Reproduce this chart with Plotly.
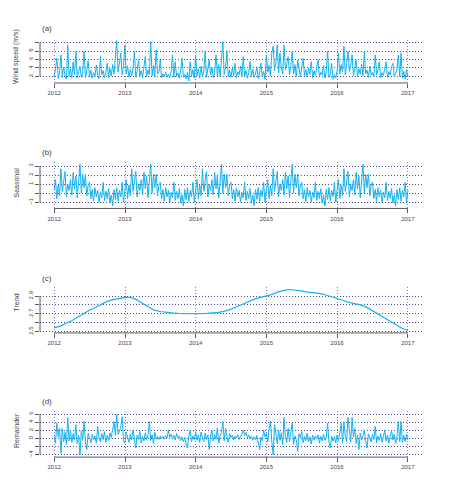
import numpy as np
import pandas as pd
import plotly.graph_objects as go

# ---------------- data (weekly readings) ----------------
wind_2012 = [2.0, 3.6, 6.3, 1.5, 3.0, 7.1, 1.8, 4.2, 2.2, 1.4, 9.4, 2.0, 3.8, 1.7, 5.4, 2.4, 7.9, 1.6, 3.2, 4.4,
             1.8, 2.8, 7.9, 1.7, 3.3, 5.7, 2.0, 3.5, 1.6, 2.9, 1.9, 4.7, 2.2, 1.5, 6.7, 2.4, 3.4, 1.7, 2.8, 5.1,
             1.8, 3.9, 2.1, 4.8, 2.5, 7.5, 10.5, 3.0, 5.2, 7.5, 2.4, 4.6]
wind_2013 = [9.4, 2.6, 4.5, 1.8, 3.6, 2.2, 4.0, 7.9, 1.9, 3.2, 5.9, 2.1, 3.4, 1.6, 4.2, 6.7, 2.0, 3.5, 2.4, 10.2,
             2.2, 4.6, 1.8, 8.3, 2.6, 3.0, 5.9, 1.7, 2.6, 2.0, 3.0, 1.8, 2.5, 1.7, 3.2, 7.1, 1.9, 5.5, 2.0, 2.8,
             1.6, 3.3, 6.3, 1.8, 2.5, 1.4, 3.0, 0.9, 5.5, 2.0, 3.6, 1.6]
wind_2014 = [7.1, 2.2, 3.8, 1.6, 4.4, 2.0, 3.2, 7.9, 1.8, 3.6, 5.9, 2.3, 4.1, 1.7, 3.0, 7.1, 2.1, 4.8, 1.9, 6.0,
             10.2, 2.5, 4.2, 8.1, 2.0, 3.5, 1.8, 4.0, 2.2, 5.1, 1.7, 3.1, 2.4, 4.5, 1.9, 6.7, 2.1, 3.4, 1.6, 2.9,
             5.5, 2.0, 3.7, 1.8, 2.6, 4.3, 1.5, 2.8, 5.1, 1.9, 3.2, 1.3]
wind_2015 = [7.1, 3.0, 4.6, 2.2, 7.5, 9.2, 3.4, 5.2, 9.4, 2.8, 7.5, 4.0, 2.5, 9.4, 3.6, 5.0, 6.7, 2.4, 4.4, 7.9,
             2.6, 4.8, 2.0, 5.9, 3.2, 1.9, 4.1, 6.3, 2.2, 3.6, 1.8, 4.0, 2.5, 5.5, 1.7, 3.4, 2.2, 4.2, 5.9, 1.9,
             3.0, 2.4, 4.6, 1.6, 3.3, 7.9, 1.8, 2.6, 5.1, 1.3, 2.4, 1.6]
wind_2016 = [3.4, 7.5, 2.6, 4.8, 3.0, 9.1, 2.4, 5.0, 7.9, 3.2, 4.6, 7.1, 2.2, 4.0, 5.9, 2.0, 3.8, 2.5, 4.9, 2.1,
             7.9, 2.6, 3.5, 1.8, 4.4, 2.3, 3.0, 1.9, 7.1, 2.4, 3.6, 5.5, 1.7, 2.9, 2.2, 3.9, 5.5, 1.8, 3.1, 2.4,
             4.3, 5.1, 1.9, 2.7, 3.8, 7.1, 2.0, 7.5, 1.6, 3.2, 1.4, 3.6, 2.0]
wind = wind_2012 + wind_2013 + wind_2014 + wind_2015 + wind_2016

# seasonal component: one periodic year (weekly), repeated every year
seasonal_year = [0.3, 1.5, -0.6, 0.9, -0.3, 2.7, 0.2, 1.2, 2.4, -0.4, 1.0, 0.3, 1.5, -0.2, 2.3, 0.5, 1.9, -0.5,
                 1.1, 3.2, 0.0, 2.1, 0.6, 2.1, -0.3, 0.9, 1.2, -0.6, 0.4, -0.9, 0.6, -0.4, 0.3, -1.0, 0.1, -0.5,
                 1.2, -0.8, 0.2, -0.6, 0.5, -1.1, -0.2, -1.4, 0.4, -0.7, 0.6, -0.9, 0.3, -0.4, 1.2, -1.0]
seasonal = seasonal_year * 5 + [seasonal_year[0]]

# trend component: monthly readings Jan 2012 .. Jan 2017
trend = [2.54, 2.56, 2.59, 2.62, 2.66, 2.70, 2.74, 2.77, 2.81, 2.84, 2.86, 2.87,
         2.885, 2.885, 2.86, 2.82, 2.78, 2.74, 2.725, 2.715, 2.71, 2.705, 2.70, 2.70,
         2.70, 2.70, 2.705, 2.71, 2.715, 2.73, 2.75, 2.78, 2.81, 2.84, 2.865, 2.885,
         2.90, 2.92, 2.945, 2.965, 2.975, 2.97, 2.96, 2.945, 2.94, 2.93, 2.915, 2.895,
         2.87, 2.845, 2.83, 2.815, 2.80, 2.775, 2.735, 2.70, 2.66, 2.615, 2.57, 2.535,
         2.51]

rem_2012 = [0.5, -1.2, 3.8, 0.4, 2.5, -3.7, 2.5, -0.8, 1.5, -1.5, 5.2, -0.6, 2.1, -1.0, 1.2, -0.3, 3.4, -1.3,
            0.8, -4.1, 1.9, -0.5, 4.2, -0.9, -2.8, 1.3, 0.2, -1.1, 1.0, -0.4, 0.6, -1.2, 3.0, 0.1, -0.9, 1.2,
            -0.3, 1.7, -1.0, 0.7, -0.5, 1.4, 0.2, 2.4, 4.2, 0.8, 6.0, 1.0, 1.7, 3.0, 5.4, -0.6]
rem_2013 = [-1.2, 1.6, 0.3, -1.0, 1.1, -0.4, 2.1, -0.7, -2.4, 0.8, -0.2, 1.7, -1.1, 0.5, -0.6, 1.4, -0.3, 0.9,
            4.2, -0.5, 0.9, -1.3, 1.5, -0.2, 0.4, -0.3, 0.6, 0.0, 0.5, -0.2, 0.7, 0.1, 2.1, 0.3, 1.0, -0.1,
            0.8, -0.4, 1.2, 0.2, 0.6, -0.6, 0.4, -0.8, 0.3, -1.4, -2.4, 0.5, 2.1, -0.8, 0.6, -0.3]
rem_2014 = [1.7, -0.5, 0.9, -1.0, 1.6, 0.2, -0.8, 1.3, -0.3, 0.9, -2.8, 0.6, 2.1, -0.7, 1.0, -0.2, 2.6, -1.2,
            0.7, 1.4, 4.2, -0.6, 2.5, 0.3, -1.0, 1.2, 0.2, 0.8, -0.4, 0.6, 0.1, 0.9, -0.3, 0.5, 1.0, 2.1,
            0.7, 1.5, 0.2, 0.8, -0.2, 0.6, -0.5, 0.4, -0.3, 0.7, -1.2, -2.8, 0.3, -0.6, 2.1, 0.4]
rem_2015 = [1.2, -0.9, 2.3, 4.2, -0.7, -4.1, 3.4, 0.2, -1.3, 2.0, -0.5, 1.4, -1.6, 5.2, 0.3, -1.0, 2.5, -0.8,
            1.1, 3.8, -1.5, 0.6, -0.3, -3.3, 1.2, 0.1, 1.7, -1.1, 0.5, -0.6, 1.3, -0.9, 0.4, -1.4, 0.8, -0.4,
            0.6, -0.2, 0.9, -1.2, 0.5, -0.6, 1.0, -0.5, 0.3, 3.8, -0.9, -2.4, 0.6, -0.7, 0.4, -1.1]
rem_2016 = [0.9, -0.6, 1.5, 3.8, -1.1, 4.2, 0.5, -0.8, 5.2, 1.0, -0.9, 5.2, 0.4, 2.5, -1.3, 0.8, -2.8, 1.3,
            -0.4, 0.6, 2.1, -0.5, -2.4, 1.1, 0.2, -0.9, 1.0, -0.3, 3.0, -1.1, 0.6, -0.5, 1.2, -0.9, 0.4, 2.1,
            -0.7, 0.8, -1.2, 0.3, 2.1, -0.4, 1.0, -1.3, 0.5, 4.2, -0.8, 4.2, -1.0, 0.7, -0.8, 1.1, -0.4]
remainder = rem_2012 + rem_2013 + rem_2014 + rem_2015 + rem_2016

years = [2012, 2013, 2014, 2015, 2016, 2017]
panel_letters = ["(a)", "(b)", "(c)", "(d)"]
panel_titles = ["Wind speed (m/s)", "Seasonal", "Trend", "Remainder"]
ytick_vals = [[2, 4, 6, 8, 10], [-1, 0, 1, 2, 3], [2.5, 2.6, 2.7, 2.8, 2.9], [-4, -2, 0, 2, 4, 6]]
ytick_text = [["2", "4", "6", "8", ""], ["\u22121", "", "1", "2", "3"], ["2.5", "", "2.7", "", "2.9"],
              ["\u22124", "", "0", "2", "4", "6"]]

# ---------------- layout geometry (page pixels; the page body adds an 8px offset) ----------------
OFF = 8
W, H = 454, 483
x_left, x_right = 40, 422
panels_px = [(40, 83.3), (162.5, 209.3), (288, 334.3), (413, 459)]
yranges = [[0.45, 10.65], [-1.694, 3.463], [2.482, 3.005], [-4.67, 6.744]]
title_y_px = [56.5, 183.5, 304, 432]
letter_y_px = [28.3, 152.7, 280, 402.7]


def px_x(p):
    return (p - OFF) / W


def px_y(p):
    return 1 - (p - OFF) / H


start, end = pd.Timestamp("2012-01-01"), pd.Timestamp("2017-01-01")
weekly_dates = pd.date_range(start, end, periods=len(wind))
rem_dates = pd.date_range(start, end, periods=len(remainder))
seas_dates = pd.date_range(start, end, periods=len(seasonal))
trend_dates = pd.date_range(start, end, freq="MS")[:len(trend)]
xr = [start - pd.Timedelta(days=73), end + pd.Timedelta(days=73)]
year_dates = [pd.Timestamp(f"{y}-01-01") for y in years]

series = [(weekly_dates, wind), (seas_dates, seasonal), (trend_dates, trend), (rem_dates, remainder)]

LINE = "#12B2F2"
GRID_H = "#4A47A3"
GRID_V = "#7E76BE"
AX = "#5a5a5a"
TXT = "#444444"
FONT = "Liberation Sans"

fig = go.Figure()
layout = dict(width=W, height=H, margin=dict(l=0, r=0, t=0, b=0), paper_bgcolor="white",
              plot_bgcolor="white", showlegend=False, font=dict(family=FONT, color=TXT, size=6))
shapes = []
annotations = []
for i in range(4):
    n = "" if i == 0 else str(i + 1)
    top, bot = panels_px[i]
    fig.add_trace(go.Scatter(x=series[i][0], y=series[i][1], mode="lines",
                             line=dict(color=LINE, width=1.0 if i != 2 else 1.2),
                             xaxis="x" + n, yaxis="y" + n, hoverinfo="skip"))
    layout["xaxis" + n] = dict(domain=[px_x(x_left), px_x(x_right)], anchor="y" + n, type="date",
                               range=xr, tickvals=year_dates, ticktext=[str(y) for y in years],
                               ticks="outside", ticklen=4, tickwidth=1, tickcolor=AX,
                               showgrid=True, gridcolor=GRID_V, griddash="1px,2px", gridwidth=1,
                               showline=False, zeroline=False, tickfont=dict(size=6, color=TXT))
    layout["yaxis" + n] = dict(domain=[px_y(bot), px_y(top)], anchor="x" + n, range=yranges[i],
                               tickvals=ytick_vals[i], ticktext=ytick_text[i], tickangle=-90,
                               ticks="outside", ticklen=4, tickwidth=1, tickcolor=AX,
                               showgrid=True, gridcolor=GRID_H, griddash="1px,2px", gridwidth=1,
                               showline=False, zeroline=False, tickfont=dict(size=6, color=TXT))
    # R-style axis lines spanning first to last tick
    shapes.append(dict(type="line", xref="x" + n + " domain", yref="y" + n, x0=0, x1=0,
                       y0=ytick_vals[i][0], y1=ytick_vals[i][-1], line=dict(color=AX, width=1)))
    shapes.append(dict(type="line", xref="x" + n, yref="y" + n + " domain", y0=0, y1=0,
                       x0=year_dates[0], x1=year_dates[-1], line=dict(color=AX, width=1)))
    annotations.append(dict(text=panel_titles[i], xref="paper", yref="paper", x=px_x(16.7),
                            y=px_y(title_y_px[i]), textangle=-90, showarrow=False,
                            xanchor="center", yanchor="middle", font=dict(size=7, color=TXT)))
    annotations.append(dict(text=panel_letters[i], xref="paper", yref="paper", x=px_x(46.7),
                            y=px_y(letter_y_px[i]), showarrow=False,
                            xanchor="center", yanchor="middle", font=dict(size=8, color=TXT)))
layout["shapes"] = shapes
layout["annotations"] = annotations
fig.update_layout(**layout)
fig.write_html("out.html")
